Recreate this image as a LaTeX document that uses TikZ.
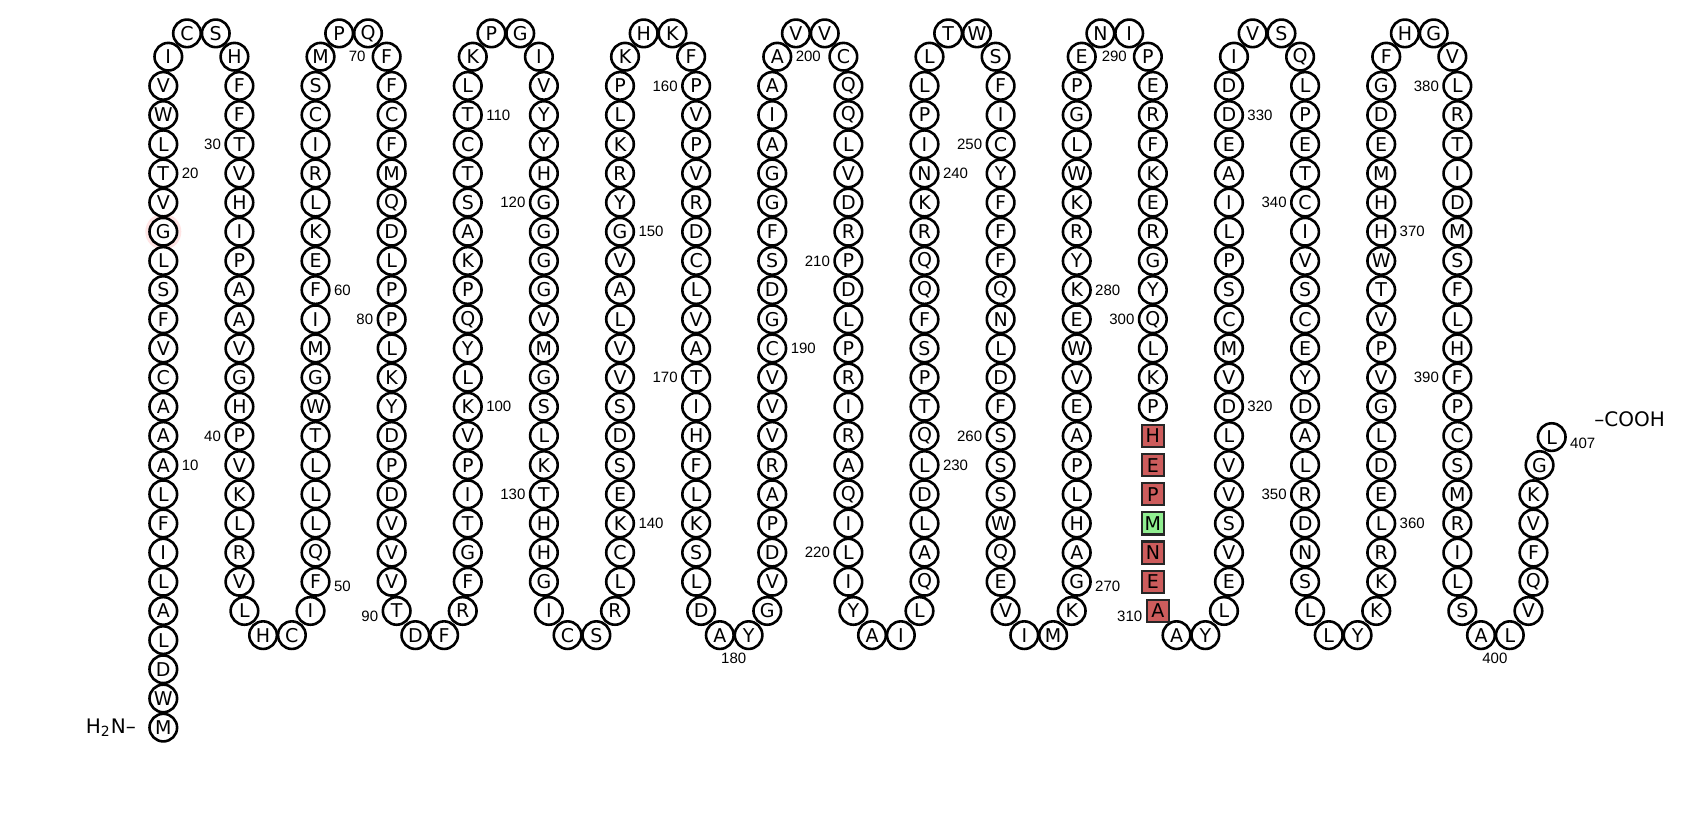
\documentclass[tikz,border=0pt]{standalone}
\usepackage{fontspec}
\setmainfont{Liberation Sans}
\newfontfamily\resfont{DejaVu Sans}
\usetikzlibrary{positioning}
\definecolor{hlred}{RGB}{205,92,92}
\definecolor{hlgreen}{RGB}{144,238,144}

\begin{document}
\begin{tikzpicture}[
  x=38.06pt, y=-14.585pt,
  font=\resfont\fontsize{9.5}{10}\selectfont,
  res/.style={draw,circle,fill=white,line width=1.3pt,
              inner sep=0pt,minimum size=13.8pt},
  hlbox/.style={draw=black!85,line width=1.1pt,fill=hlred,
                inner sep=0pt,minimum size=11.1pt},
  seqnum/.style={font=\rmfamily\fontsize{7.5}{9}\selectfont,inner sep=1pt},
  term/.style={font=\resfont\fontsize{10}{12}\selectfont,inner sep=1pt},
  halo/.style={circle,fill=red!10,inner sep=0pt,minimum size=18pt}
]
% --- page frame ---
\fill[white] (-1.1453,-1.9438) rectangle (21.1616,26.7158);

% --- N-terminal column ---
\node[halo] (glow) at (1,6) {};
\foreach \ltr [count=\idx] in {M,W,D,L,A,L,I,F,L,A,A,A,C,V,F,S,L,G,V,T,L,W,V}
  \node[res] (r\idx) at (1,24-\idx) {\ltr};
\node[res] (r24) at (1.0657,0) {I};
\node[term,left=5pt of r1] (nterm) {H\textsubscript{2}N\textendash};

% --- columns going up ---
\foreach \cl/\first/\letters in {
    3/49/{I,F,Q,L,L,L,T,W,G,M,I,F,E,K,L,R,I,C,S,M},
    5/93/{R,F,G,T,I,P,V,K,L,Y,Q,P,K,A,S,T,C,T,L,K},
    7/137/{R,L,C,K,E,S,D,S,V,V,L,A,V,G,Y,R,K,L,P,K},
    9/181/{G,V,D,P,A,R,V,V,V,C,G,D,S,F,G,G,A,I,A,A},
    11/225/{L,Q,A,L,D,L,Q,T,P,S,F,Q,Q,R,K,N,I,P,L,L},
    13/269/{K,G,A,H,L,P,A,E,V,W,E,K,Y,R,K,W,L,G,P,E},
    15/313/{L,E,V,S,V,V,L,D,V,M,C,S,P,L,I,A,E,D,D,I},
    17/357/{K,K,R,L,E,D,L,G,V,P,V,T,W,H,H,M,E,D,G,F}} {
  \foreach \ltr [count=\idx] in \letters {
    \pgfmathtruncatemacro\rn{\first+\idx-1}
    \node[res] (r\rn) at ({\cl+0.0657*((\idx==20)-(\idx==1))},20-\idx) {\ltr};
  }
}

% --- columns going down ---
\foreach \cl/\first/\letters in {
    2/27/{H,F,F,T,V,H,I,P,A,A,V,G,H,P,V,K,L,R,V,L},
    4/71/{F,F,C,F,M,Q,D,L,P,P,L,K,Y,D,P,D,V,V,V,T},
    6/115/{I,V,Y,Y,H,G,G,G,G,V,M,G,S,L,K,T,H,H,G,I},
    8/159/{F,P,V,P,V,R,D,C,L,V,A,T,I,H,F,L,K,S,L,D},
    10/203/{C,Q,Q,L,V,D,R,P,D,L,P,R,I,R,A,Q,I,L,I,Y},
    12/247/{S,F,I,C,Y,F,F,F,Q,N,L,D,F,S,S,S,W,Q,E,V},
    14/291/{P,E,R,F,K,E,R,G,Y,Q,L,K,P},
    16/335/{Q,L,P,E,T,C,I,V,S,C,E,Y,D,A,L,R,D,N,S,L},
    18/379/{V,L,R,T,I,D,M,S,F,L,H,F,P,C,S,M,R,I,L,S}} {
  \foreach \ltr [count=\idx] in \letters {
    \pgfmathtruncatemacro\rn{\first+\idx-1}
    \node[res] (r\rn) at ({\cl+0.0657*((\idx==20)-(\idx==1))},\idx-1) {\ltr};
  }
}

% --- turns at the top ---
\foreach \cl/\first/\la/\lb in {1/25/C/S, 3/69/P/Q, 5/113/P/G, 7/157/H/K,
    9/201/V/V, 11/245/T/W, 13/289/N/I, 15/333/V/S, 17/377/H/G} {
  \pgfmathtruncatemacro\rnb{\first+1}
  \node[res] (r\first) at (\cl+0.311,-0.8) {\la};
  \node[res] (r\rnb) at (\cl+0.689,-0.8) {\lb};
}

% --- turns at the bottom ---
\foreach \cl/\first/\la/\lb in {2/47/H/C, 4/91/D/F, 6/135/C/S, 8/179/A/Y,
    10/223/A/I, 12/267/I/M, 14/311/A/Y, 16/355/L/Y, 18/399/A/L} {
  \pgfmathtruncatemacro\rnb{\first+1}
  \node[res] (r\first) at (\cl+0.311,19.83) {\la};
  \node[res] (r\rnb) at (\cl+0.689,19.83) {\lb};
}

% --- highlighted stretch ---
\foreach \ltr/\rn in {H/304,E/305,P/306,N/308,E/309}
  \node[hlbox] (r\rn) at (14,\rn-291) {\ltr};
\node[hlbox,fill=hlgreen] (r307) at (14,16) {M};
\node[hlbox] (r310) at (14.0657,19) {A};

% --- C-terminal tail ---
\node[res] (r401) at (18.934,19) {V};
\foreach \ltr [count=\idx from 402] in {Q,F,V,K}
  \node[res] (r\idx) at (19,420-\idx) {\ltr};
\node[res] (r406) at (19.08,14) {G};
\node[res] (r407) at (19.24,13.04) {L};
\node[term,anchor=west] (cooh) at (19.77,12.43) {\textendash COOH};

% --- residue numbers ---
\foreach \rn in {10,20,60,100,110,140,150,190,200,230,240,280,320,330,360,370}
  \node[seqnum,right=0.5pt of r\rn] (l\rn) {\rn};
\foreach \rn in {50,270}
  \node[seqnum,right=0.5pt of r\rn,yshift=-2.5pt] (l\rn) {\rn};
\foreach \rn in {30,40,80,120,130,160,170,210,220,250,260,300,340,350,380,390}
  \node[seqnum,left=0.5pt of r\rn] (l\rn) {\rn};
\foreach \rn in {90,310}
  \node[seqnum,left=0.5pt of r\rn,yshift=-2.5pt] (l\rn) {\rn};
\foreach \rn in {70,180,290,400}
  \node[seqnum,anchor=north east] (l\rn) at (r\rn.south) {\rn};
\node[seqnum,right=0.5pt of r407,yshift=-3pt] (l407) {407};
\end{tikzpicture}
\end{document}
